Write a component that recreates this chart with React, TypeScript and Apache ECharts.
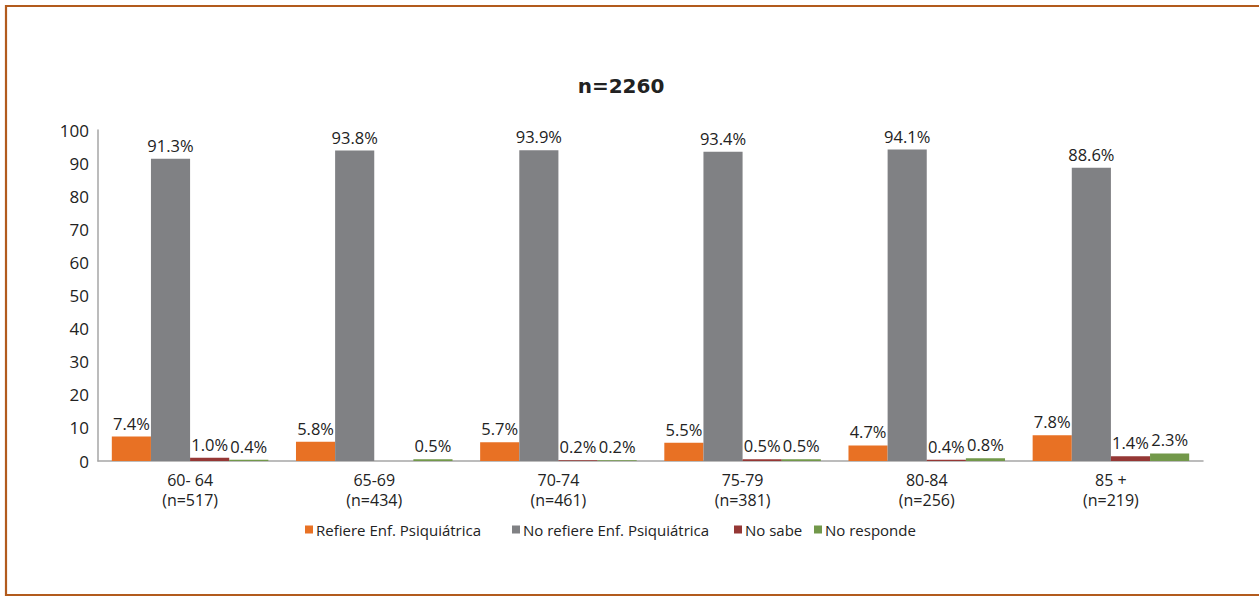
import React, { useEffect, useRef } from "react";
import * as echarts from "echarts";

const categories = ["60- 64\n(n=517)", "65-69\n(n=434)", "70-74\n(n=461)", "75-79\n(n=381)", "80-84\n(n=256)", "85 +\n(n=219)"];
const seriesNames = ["Refiere Enf. Psiquiátrica", "No refiere Enf. Psiquiátrica", "No sabe", "No responde"];
const refiere = [7.4, 5.8, 5.7, 5.5, 4.7, 7.8];
const noRefiere = [91.3, 93.8, 93.9, 93.4, 94.1, 88.6];
const noSabe: (number | null)[] = [1.0, null, 0.2, 0.5, 0.4, 1.4];
const noResponde = [0.4, 0.5, 0.2, 0.5, 0.8, 2.3];
const colors = ["#E87124", "#808184", "#953735", "#72984A"];
const legendLefts = [305, 512, 734, 814];

const FONT = "Open Sans";

export default function App() {
  const ref = useRef<HTMLDivElement>(null);
  useEffect(() => {
    document.body.style.margin = "0";
    const chart = echarts.init(ref.current!, null, { renderer: "svg" });
    const values = [refiere, noRefiere, noSabe, noResponde];
    chart.setOption({
      animation: false,
      backgroundColor: "#ffffff",
      textStyle: { fontFamily: FONT },
      title: {
        text: "n=2260",
        left: 616,
        textAlign: "center",
        top: 71,
        textStyle: { fontFamily: "DejaVu Sans", fontSize: 20, fontWeight: "bold", color: "#222" },
      },
      graphic: [
        {
          type: "rect",
          shape: { x: 6, y: 6, width: 1300, height: 589 },
          style: { fill: "none", stroke: "#B25B1D", lineWidth: 2.2 },
          silent: true,
        },
      ],
      legend: seriesNames.map((name, i) => ({
        data: [name],
        left: legendLefts[i],
        top: 522,
        itemWidth: 8,
        itemHeight: 8,
        itemGap: 0,
        icon: "rect",
        textStyle: { fontFamily: FONT, fontSize: 15, color: "#222", padding: [0, 0, 0, -2] },
        padding: 0,
      })),
      grid: { left: 98, right: 56, top: 130, bottom: 138, containLabel: false },
      xAxis: {
        type: "category",
        data: categories,
        axisLine: { show: true, lineStyle: { color: "#A6A6A6", width: 1.5 } },
        axisTick: { show: false },
        axisLabel: { fontFamily: FONT, fontSize: 16, color: "#222", lineHeight: 20, margin: 9 },
      },
      yAxis: {
        type: "value",
        min: 0,
        max: 100,
        interval: 10,
        axisLine: { show: true, lineStyle: { color: "#A6A6A6", width: 1.5 } },
        axisTick: { show: false },
        splitLine: { show: false },
        axisLabel: { fontFamily: FONT, fontSize: 17, color: "#222", margin: 9 },
      },
      series: seriesNames.map((name, i) => ({
        name,
        type: "bar",
        data: values[i],
        barGap: "0%",
        barCategoryGap: "15%",
        itemStyle: { color: colors[i] },
        label: {
          show: true,
          position: "top",
          distance: 5,
          fontFamily: FONT,
          fontSize: 16.5,
          color: "#222",
          formatter: (p: any) => (p.value == null ? "" : Number(p.value).toFixed(1) + "%"),
        },
      })),
    });
    return () => chart.dispose();
  }, []);
  return <div ref={ref} style={{ position: "fixed", left: 0, top: 0, width: 1259, height: 599 }} />;
}
